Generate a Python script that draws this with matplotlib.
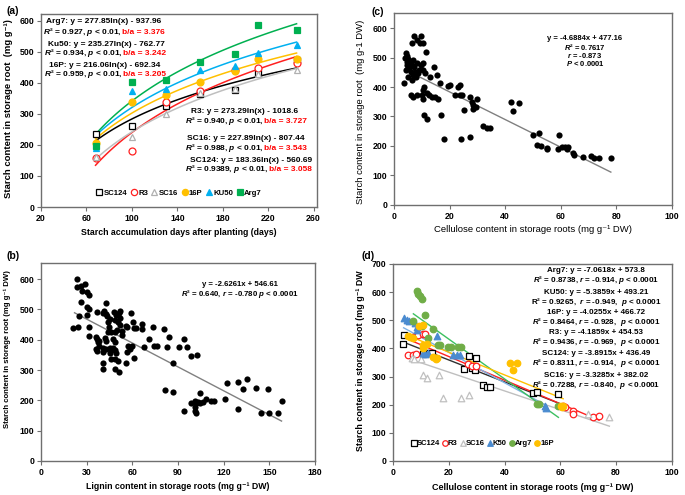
import numpy as np
import matplotlib
matplotlib.use("Agg")
import matplotlib.pyplot as plt

plt.rcParams["font.family"] = ["Liberation Sans", "DejaVu Sans"]
plt.rcParams["mathtext.fontset"] = "custom"
plt.rcParams["mathtext.rm"] = "Liberation Sans:bold"
plt.rcParams["mathtext.it"] = "Liberation Sans:italic:bold"
plt.rcParams["mathtext.bf"] = "Liberation Sans:bold"

# ---- panel (a): starch vs days after planting
days = [68, 100, 130, 160, 191, 211, 245]
a_sc124 = [236, 261, 325, 363, 376, 432, 473]
a_r3 = [158, 180, 339, 374, 440, 449, 465]
a_sc16 = [160, 226, 299, 368, 380, 428, 443]
a_16p = [205, 337, 362, 403, 439, 478, 477]
a_ku50 = [190, 374, 380, 441, 455, 497, 521]
a_arg7 = [197, 403, 409, 467, 492, 587, 571]
# log fits y = a*ln(x) + b
a_fit = {"SC124": (183.36, -560.69), "R3": (273.29, -1018.6),
         "SC16": (227.89, -807.44), "16P": (216.06, -692.34),
         "KU50": (235.27, -762.77), "Arg7": (277.85, -937.96)}

# ---- panel (b): starch vs lignin
lignin = [23.5, 23.7, 26.3, 29.2, 30.3, 31.4, 26.8, 21.3, 24.6, 24.8, 26.3, 30.0,
          30.3, 31.4, 31.8, 31.4, 35.8, 36.7, 36.2, 36.7, 37.3, 38.4, 38.4, 36.7,
          41.3, 42.4, 42.8, 43.2, 40.6, 43.7, 45.0, 44.5, 43.7, 45.7, 41.7, 42.8,
          40.6, 41.0, 42.4, 45.0, 46.2, 47.2, 48.4, 46.2, 48.4, 40.6, 41.0, 45.0,
          49.4, 48.4, 51.1, 50.5, 47.9, 49.4, 51.0, 52.0, 48.9, 50.5, 52.0, 51.6,
          49.8, 48.6, 52.9, 53.4, 47.2, 48.4, 55.5, 56.4, 59.3, 60.4, 60.8, 62.6,
          66.5, 66.5, 57.1, 58.2, 60.0, 56.6, 55.5, 60.8, 67.6, 70.9, 73.4, 74.0,
          76.5, 81.1, 82.6, 83.9, 90.5, 93.8, 95.8, 98.4, 102.6, 87.0, 81.3, 87.0,
          93.6, 98.7, 100.9, 102.0, 103.0, 104.2, 106.3, 104.6, 100.9, 100.9,
          101.5, 108.6, 111.9, 113.6, 120.7, 122.4, 129.4, 132.7, 135.4, 129.4,
          141.1, 149.2, 144.2, 149.7, 155.8, 158.4]
starch_b = [600, 573, 578, 584, 556, 546, 562, 438, 441, 479, 523, 507,
            483, 501, 442, 413, 408, 401, 371, 362, 393, 397, 379, 493,
            496, 521, 486, 477, 488, 460, 467, 442, 427, 425, 405, 397,
            372, 361, 368, 374, 366, 374, 366, 335, 335, 322, 305, 355,
            355, 305, 294, 329, 493, 482, 488, 496, 465, 460, 471, 449,
            432, 427, 429, 416, 401, 393, 446, 441, 488, 457, 438, 438,
            452, 436, 379, 368, 379, 361, 324, 341, 375, 401, 441, 378,
            378, 434, 376, 408, 376, 401, 376, 347, 350, 324, 235, 226,
            165, 190, 199, 192, 195, 192, 195, 223, 177, 166,
            157, 203, 198, 198, 203, 256, 261, 236, 269, 170,
            240, 238, 159, 157, 157, 197]
fit_b = (-2.6261, 546.61)
range_b = [22, 158]

# ---- panel (c): starch vs cellulose (all genotypes)
cellulose = [7.2, 9.6, 6.4, 8.2, 9.4, 10.3, 11.5, 4.3, 4.8, 4.0, 5.2, 4.6, 5.8, 7.0,
             6.4, 4.8, 5.5, 7.2, 4.3, 6.0, 7.6, 8.8, 6.7, 5.2, 8.0, 6.4, 3.6, 8.2,
             9.6, 10.6, 11.2, 9.1, 10.3, 14.4, 15.3, 12.9, 16.5, 6.0, 7.0, 8.2, 9.9,
             10.6, 10.8, 11.8, 12.7, 13.5, 14.7, 15.9, 10.3, 10.8, 12.0, 16.8, 18.0,
             24.0, 27.3, 19.5, 20.3, 23.1, 23.7, 21.9, 23.7, 24.3, 27.3, 27.9, 28.5,
             29.5, 30.0, 28.3, 25.2, 32.1, 33.3, 34.5, 42.0, 45.0, 42.9, 50.1, 52.2,
             51.6, 52.8, 55.2, 55.2, 59.3, 59.1, 60.3, 61.5, 62.3, 62.7, 64.5, 64.7,
             68.1, 70.8, 72.0, 73.9, 78.1]
starch_c = [574, 574, 548, 559, 548, 548, 518, 516, 505, 500, 494, 486, 486, 491,
            475, 475, 463, 469, 458, 452, 452, 446, 441, 435, 433, 424, 415, 482,
            475, 482, 449, 458, 458, 467, 441, 435, 412, 373, 367, 373, 373,
            390, 401, 378, 373, 367, 367, 361, 358, 305, 290, 305, 224,
            224, 232, 404, 406, 401, 406, 373, 373, 373, 367, 350, 339,
            331, 361, 325, 322, 268, 260, 260, 348, 347, 319, 237, 243,
            203, 201, 194, 189, 237, 191, 195, 195, 190, 195, 177, 169,
            164, 167, 159, 158, 158]
fit_c = (-4.6884, 477.16)
range_c = [4, 78]

# ---- panel (d): starch vs cellulose by genotype
d_sc124_x = [3.4, 3.8, 10.8, 11.7, 12.9, 13.8, 25.4, 27.3, 28.1, 29.3, 29.7, 32.1,
             33.5, 34.7, 50.1, 51.7, 59.3]
d_sc124_y = [416, 447, 381, 384, 384, 384, 327, 372, 330, 324, 366, 271,
             262, 262, 240, 246, 238]
d_r3_x = [5.4, 6.9, 8.2, 7.2, 9.0, 10.8, 11.5, 27.0, 28.2, 29.7, 60.8, 61.7, 64.7,
          64.7, 71.8, 73.9]
d_r3_y = [375, 377, 380, 440, 447, 452, 450, 343, 337, 339, 196, 192, 176,
          168, 158, 161]
d_sc16_x = [6.6, 7.5, 9.8, 10.6, 12.0, 16.5, 18.0, 24.2, 27.3, 70.0, 77.6]
d_sc16_y = [367, 362, 361, 304, 295, 307, 224, 224, 233, 168, 158]
d_ku50_x = [3.7, 4.8, 5.7, 7.8, 8.4, 8.6, 10.6, 11.4, 12.6, 15.6, 21.3, 22.8, 24.0,
            54.5, 55.0]
d_ku50_y = [508, 500, 496, 492, 476, 464, 385, 379, 382, 445, 375, 375, 375,
            194, 190]
d_arg7_x = [7.2, 8.4, 9.0, 9.6, 10.2, 10.3, 11.4, 12.6, 14.2, 16.2, 16.8, 19.8,
            20.6, 23.4, 24.2, 51.5, 52.4, 59.3]
d_arg7_y = [496, 604, 593, 585, 577, 480, 519, 436, 470, 412, 411, 405,
            406, 405, 404, 204, 204, 196]
d_16p_x = [5.1, 6.0, 7.2, 9.3, 10.6, 10.8, 10.8, 12.0, 14.4, 15.3, 15.8, 41.9,
           42.9, 44.6, 60.1, 60.5, 61.0]
d_16p_y = [444, 440, 436, 480, 482, 411, 400, 414, 370, 363, 367, 348,
           325, 348, 197, 191, 196]
# linear fits (slope, intercept) and x extent of each trend line
d_fit = {"SC124": (-3.8915, 436.49), "R3": (-4.1859, 454.53),
         "SC16": (-3.3285, 382.02), "KU50": (-5.3859, 493.21),
         "Arg7": (-7.0618, 573.8), "16P": (-4.0255, 466.72)}
d_range = {"SC124": (3.4, 59.3), "R3": (5.4, 73.9), "SC16": (6.6, 77.6),
           "KU50": (3.7, 55.0), "Arg7": (7.2, 59.3), "16P": (5.1, 61.0)}

FS_TICK = 6.3

fig = plt.figure(figsize=(6.85, 4.95), dpi=100)
ax_a = fig.add_axes([0.0599, 0.5818, 0.4029, 0.3899])
ax_c = fig.add_axes([0.5752, 0.5859, 0.4058, 0.3879])
ax_b = fig.add_axes([0.0599, 0.0687, 0.4000, 0.4000])
ax_d = fig.add_axes([0.5742, 0.0687, 0.4064, 0.3980])


def style(ax, bold=True):
    for s in ax.spines.values():
        s.set_color("#6f6f6f")
        s.set_linewidth(1.0)
    ax.tick_params(direction="out", length=3, width=0.8, labelsize=FS_TICK,
                   color="#6f6f6f", pad=2)
    for lab in ax.get_xticklabels() + ax.get_yticklabels():
        lab.set_fontweight("bold" if bold else "normal")


def eq_line(ax, x, y, black, red=None, ha="left", size=6.0):
    t = ax.text(x, y, black, transform=ax.transAxes, fontsize=size,
                fontweight="bold", va="baseline", ha=ha)
    if red:
        r = fig.canvas.get_renderer()
        bb = t.get_window_extent(r)
        xr = ax.transAxes.inverted().transform((bb.x1, 0))[0]
        ax.text(xr, y, red, transform=ax.transAxes, fontsize=size,
                fontweight="bold", va="baseline", color="red")


# ---------------- (a)
series_a = [
    ("SC124", a_sc124, dict(marker="s", mfc="white", mec="black"), "black"),
    ("R3", a_r3, dict(marker="o", mfc="white", mec="#FF2020"), "#FF2020"),
    ("SC16", a_sc16, dict(marker="^", mfc="white", mec="#B0B0B0"), "#BFBFBF"),
    ("16P", a_16p, dict(marker="o", mfc="#FFC000", mec="#FFC000"), "#FFC000"),
    ("KU50", a_ku50, dict(marker="^", mfc="#00B0F0", mec="#00B0F0"), "#00B0F0"),
    ("Arg7", a_arg7, dict(marker="s", mfc="#00B050", mec="#00B050"), "#00B050"),
]
xs = np.linspace(days[0], days[-1], 80)
handles = []
for name, vals, mk, col in series_a:
    k, b = a_fit[name]
    ax_a.plot(xs, k * np.log(xs) + b, color=col, lw=1.1, zorder=2)
for name, vals, mk, col in series_a:
    h, = ax_a.plot(days, vals, ls="none", ms=5, mew=0.9, zorder=3, **mk)
    handles.append(h)
ax_a.set_xlim(20, 263)
ax_a.set_ylim(0, 622)
ax_a.set_xticks(range(20, 261, 40))
ax_a.set_yticks(range(0, 601, 100))
style(ax_a)
ax_a.set_xlabel("Starch accumulation days after planting (days)", fontsize=6.3,
                fontweight="bold")
ax_a.set_ylabel("Starch content in storage root  (mg g\u207b\u00b9)", fontsize=6.8,
                fontweight="bold")
ax_a.xaxis.set_label_coords(0.5, -0.109)
ax_a.yaxis.set_label_coords(-0.101, 0.51)
ax_a.legend(handles, [s[0] for s in series_a], ncol=6, loc="center",
            bbox_to_anchor=(0.5, 0.072), frameon=False, markerscale=0.9,
            handlelength=0.8, handletextpad=0.15, columnspacing=0.45,
            prop={"weight": "bold", "size": 5.6})

eq_line(ax_a, 0.018, 0.953, "Arg7: y = 277.85ln(x) - 937.96")
eq_line(ax_a, 0.007, 0.896, "$R$\u00b2 = 0.927, $p$ < 0.01, ", "b/a = 3.376")
eq_line(ax_a, 0.025, 0.834, "Ku50: y = 235.27ln(x) - 762.77")
eq_line(ax_a, 0.011, 0.788, "$R$\u00b2 = 0.934, $p$ < 0.01, ", "b/a = 3.242")
eq_line(ax_a, 0.029, 0.725, "16P: y = 216.06ln(x) - 692.34")
eq_line(ax_a, 0.011, 0.679, "$R$\u00b2 = 0.959, $p$ < 0.01, ", "b/a = 3.205")
eq_line(ax_a, 0.543, 0.487, "R3: y = 273.29ln(x) - 1018.6")
eq_line(ax_a, 0.522, 0.435, "$R$\u00b2 = 0.940, $p$ < 0.01, ", "b/a = 3.727")
eq_line(ax_a, 0.529, 0.347, "SC16: y = 227.89ln(x) - 807.44")
eq_line(ax_a, 0.522, 0.295, "$R$\u00b2 = 0.988, $p$ < 0.01, ", "b/a = 3.543")
eq_line(ax_a, 0.540, 0.233, "SC124: y = 183.36ln(x) - 560.69")
eq_line(ax_a, 0.522, 0.187, "$R$\u00b2 = 0.9389, $p$ < 0.01, ", "b/a = 3.058")

# ---------------- (b)
ax_b.scatter(lignin, starch_b, s=20, color="black", zorder=3, linewidths=0)
xb = np.array(range_b)
ax_b.plot(xb, fit_b[0] * xb + fit_b[1], color="#808080", lw=1.0, zorder=2)
ax_b.set_xlim(0, 180)
ax_b.set_ylim(0, 653)
ax_b.set_xticks(range(0, 181, 30))
ax_b.set_yticks(range(0, 601, 100))
style(ax_b)
ax_b.set_xlabel("Lignin content in storage roots (mg g\u207b\u00b9 DW)", fontsize=6.3,
                fontweight="bold")
ax_b.set_ylabel("Starch content in storage root (mg g\u207b\u00b9 DW)", fontsize=5.6,
                fontweight="bold")
ax_b.xaxis.set_label_coords(0.5, -0.106)
ax_b.yaxis.set_label_coords(-0.11, 0.566)
eq_line(ax_b, 0.725, 0.884, "y = -2.6261x + 546.61", ha="center", size=5.6)
eq_line(ax_b, 0.725, 0.833, "$R$\u00b2 = 0.640, $r$ = -0.780 $p$ < 0.0001", ha="center",
        size=5.7)

# ---------------- (c)
ax_c.scatter(cellulose, starch_c, s=20, color="black", zorder=3, linewidths=0)
xc = np.array(range_c)
ax_c.plot(xc, fit_c[0] * xc + fit_c[1], color="#808080", lw=1.0, zorder=2)
ax_c.set_xlim(0, 100)
ax_c.set_ylim(0, 651)
ax_c.set_xticks(range(0, 101, 20))
ax_c.set_yticks(range(0, 601, 100))
style(ax_c)
ax_c.set_xlabel("Cellulose content in storage roots (mg g\u207b\u00b9 DW)", fontsize=6.8)
ax_c.set_ylabel("Starch content in storage root  (mg g-1 DW)", fontsize=6.8)
ax_c.xaxis.set_label_coords(0.5, -0.104)
ax_c.yaxis.set_label_coords(-0.104, 0.484)
eq_line(ax_c, 0.687, 0.857, "y = -4.6884x + 477.16", ha="center", size=5.5)
eq_line(ax_c, 0.687, 0.809, "$R$\u00b2 = 0.7617", ha="center", size=5.5)
eq_line(ax_c, 0.687, 0.766, "$r$ = -0.873", ha="center", size=5.5)
eq_line(ax_c, 0.687, 0.724, "$P$ < 0.0001", ha="center", size=5.5)

# ---------------- (d)
series_d = [
    ("SC124", d_sc124_x, d_sc124_y, dict(marker="s", facecolors="white", edgecolors="black"), "#303030"),
    ("R3", d_r3_x, d_r3_y, dict(marker="o", facecolors="white", edgecolors="#FF2020"), "#FF2020"),
    ("SC16", d_sc16_x, d_sc16_y, dict(marker="^", facecolors="white", edgecolors="#C0C0C0"), "#BFBFBF"),
    ("KU50", d_ku50_x, d_ku50_y, dict(marker="^", facecolors="#4A8BD0", edgecolors="#4A8BD0"), "#7FB2E5"),
    ("Arg7", d_arg7_x, d_arg7_y, dict(marker="o", facecolors="#70AD47", edgecolors="#70AD47"), "#3CC060"),
    ("16P", d_16p_x, d_16p_y, dict(marker="o", facecolors="#FFC000", edgecolors="#FFC000"), "#FFC000"),
]
for name, x, y, mk, col in series_d:
    k, b = d_fit[name]
    xl = np.array(d_range[name])
    ax_d.plot(xl, k * xl + b, color=col, lw=1.0, zorder=2)
dh = []
for name, x, y, mk, col in series_d:
    h = ax_d.scatter(x, y, s=22, linewidths=0.9, zorder=3, **mk)
    dh.append(h)
ax_d.set_xlim(0, 100)
ax_d.set_ylim(0, 700)
ax_d.set_xticks(range(0, 101, 20))
ax_d.set_yticks(range(0, 701, 100))
style(ax_d)
ax_d.set_xlabel("Cellulose content in storage roots (mg g\u207b\u00b9 DW)", fontsize=6.5,
                fontweight="bold")
ax_d.set_ylabel("Starch content in storage root (mg g\u207b\u00b9 DW", fontsize=6.4,
                fontweight="bold")
ax_d.xaxis.set_label_coords(0.5, -0.112)
ax_d.yaxis.set_label_coords(-0.102, 0.508)
ax_d.legend(dh, ["SC124", "R3", "SC16", "K50", "Arg7", "16P"], ncol=6, loc="center",
            bbox_to_anchor=(0.32, 0.091), frameon=False, markerscale=0.85,
            handlelength=0.7, handletextpad=0.05, columnspacing=0.3, borderpad=0.2,
            prop={"weight": "bold", "size": 5.5})
d_text = [
    ("Arg7: y = -7.0618x + 573.8", "$R$\u00b2 = 0.8738, $r$ = -0.914, $p$ < 0.0001"),
    ("KU50: y = -5.3859x + 493.21", "R\u00b2 = 0.9265,  $r$ = -0.949,  $p$ < 0.0001"),
    ("16P: y = -4.0255x + 466.72", "$R$\u00b2 = 0.8464, $r$ = -0.928,  $p$ < 0.0001"),
    ("R3: y = -4.1859x + 454.53", "$R$\u00b2 = 0.9436, $r$ = -0.969,  $p$ < 0.0001"),
    ("SC124: y = -3.8915x + 436.49", "$R$\u00b2 = 0.8311, $r$ = -0.914,  $p$ < 0.0001"),
    ("SC16: y = -3.3285x + 382.02", "$R$\u00b2 = 0.7288, $r$ = -0.840,  $p$ < 0.0001"),
]
d_base = [0.959, 0.907, 0.849, 0.798, 0.748, 0.697, 0.646, 0.595, 0.540, 0.487, 0.425, 0.376]
for i, (l1, l2) in enumerate(d_text):
    eq_line(ax_d, 0.728, d_base[2 * i], l1, ha="center", size=5.8)
    eq_line(ax_d, 0.728, d_base[2 * i + 1], l2, ha="center", size=5.8)

for lab, x, y in [("(a)", 0.010, 0.978), ("(c)", 0.543, 0.976),
                  ("(b)", 0.010, 0.483), ("(d)", 0.528, 0.483)]:
    fig.text(x, y, lab, fontsize=7.5, fontweight="bold", va="center")

fig.savefig("out.png", dpi=100)
